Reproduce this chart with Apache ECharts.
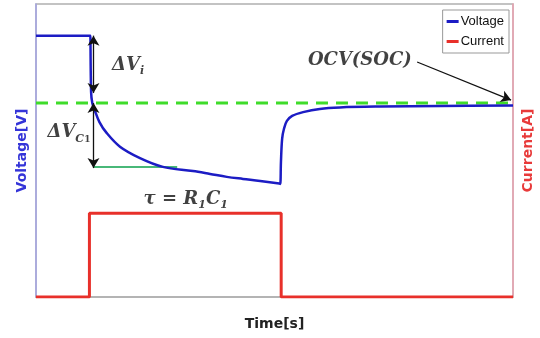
<!DOCTYPE html>
<html>
<head>
<meta charset="utf-8">
<script src="https://cdn.jsdelivr.net/npm/echarts@6/dist/echarts.min.js"></script>
<style>
html,body{margin:0;padding:0;background:#fff;}
#chart{width:540px;height:338px;}
</style>
</head>
<body>
<div id="chart"></div>
<script>
// ---- data ----
var voltTime = [0, 11.4, 11.5, 11.55, 11.8, 12.3, 13.3, 14.8, 17.6, 21.8, 26.6, 32.9, 36.5, 40.0, 43.4, 47.0, 51.0, 51.2, 51.35, 51.6, 52.0, 52.6, 53.7, 56.0, 59.5, 63.7, 72.1, 84.7, 100];
var voltVals = [4.092, 4.092, 4.092, 3.900, 3.862, 3.838, 3.797, 3.760, 3.713, 3.674, 3.644, 3.630, 3.620, 3.610, 3.603, 3.596, 3.587, 3.586, 3.660, 3.740, 3.775, 3.801, 3.818, 3.831, 3.842, 3.847, 3.850, 3.852, 3.854];
var currTime = [0, 11.2, 11.2, 51.4, 51.4, 100];
var currVals = [0, 0, 1, 1, 0, 0];
var ocvTime = [0, 100];
var ocvVals = [3.862, 3.862];
var tauTime = [12.0, 29.6];
var tauVals = [3.644, 3.644];
// annotation arrows: [t1, v1, t2, v2]
var arrowDVi = [12.05, 4.092, 12.05, 3.896];
var arrowDVc = [12.05, 3.862, 12.05, 3.640];
var arrowOCV = [79.9, 4.002, 99.6, 3.872];
// annotation labels
var labelTime = [19.3, 6.9, 31.4, 67.9];
var labelVolt = [3.992, 3.763, 3.535, 4.009];
var labelText = ['{it|ΔV}{sb|i}', '{it|ΔV}{sb|C}{ssb|1}', '{it|τ = R}{sb|1}{it|C}{sb|1}', '{it|OCV(SOC)}'];
var seriesNames = ['Voltage', 'Current'];

function pairs(a, b) { return a.map(function (x, i) { return [x, b[i]]; }); }

var chart = echarts.init(document.getElementById('chart'), null, {renderer: 'canvas'});
var serif = '"DejaVu Serif", "Liberation Serif", serif';
var rich = {
  it: {fontFamily: serif, fontStyle: 'italic', fontWeight: 'bold', fontSize: 18, color: '#111'},
  sb: {fontFamily: serif, fontStyle: 'italic', fontWeight: 'bold', fontSize: 11, color: '#111', verticalAlign: 'bottom', padding: [12, 0, 0, 0]},
  ssb: {fontFamily: serif, fontWeight: 'bold', fontSize: 9, color: '#111', verticalAlign: 'bottom', padding: [16, 0, 0, 0]}
};

var option = {
  animation: false,
  backgroundColor: '#fff',
  grid: {left: 36, right: 27, top: 4, bottom: 41, show: true, borderColor: '#b0b0b0', borderWidth: 1.5,
         outerBoundsMode: 'none', containLabel: false},
  legend: {
    data: seriesNames, orient: 'vertical', right: 31, top: 10,
    icon: 'rect', itemWidth: 12, itemHeight: 3, itemGap: 7,
    padding: [5, 5, 5, 4], borderColor: '#999', borderWidth: 1, backgroundColor: '#fff',
    textStyle: {fontFamily: '"Liberation Sans", Arial, sans-serif', fontSize: 13, color: '#111', padding: [0, 0, 0, -3]}
  },
  xAxis: {
    type: 'value', min: 0, max: 100,
    axisLine: {show: true, lineStyle: {color: '#b0b0b0', width: 1.5}},
    axisTick: {show: false}, axisLabel: {show: false}, splitLine: {show: false},
    name: 'Time[s]', nameLocation: 'middle', nameGap: 20,
    nameTextStyle: {fontFamily: '"DejaVu Sans", sans-serif', fontWeight: 'bold', fontSize: 14, color: '#222'}
  },
  yAxis: [{
    type: 'value', min: 3.2, max: 4.2, position: 'left',
    axisLine: {show: true, lineStyle: {color: '#a4a4e4', width: 1.5}},
    axisTick: {show: false}, axisLabel: {show: false}, splitLine: {show: false},
    name: 'Voltage[V]', nameLocation: 'middle', nameRotate: 90, nameGap: 7,
    nameTextStyle: {fontFamily: '"DejaVu Sans", sans-serif', fontWeight: 'bold', fontSize: 14, color: '#3434d8'}
  }, {
    type: 'value', min: 0, max: 3.5, position: 'right',
    axisLine: {show: true, lineStyle: {color: '#eba2b0', width: 1.5}},
    axisTick: {show: false}, axisLabel: {show: false}, splitLine: {show: false},
    name: 'Current[A]', nameLocation: 'middle', nameRotate: 90, nameGap: 8,
    nameTextStyle: {fontFamily: '"DejaVu Sans", sans-serif', fontWeight: 'bold', fontSize: 14, color: '#e83a3a'}
  }],
  series: [{
    name: 'OCV', type: 'line', yAxisIndex: 0, data: pairs(ocvTime, ocvVals), showSymbol: false, z: 2,
    lineStyle: {color: '#3fdc2a', width: 3, type: [12, 8]}
  }, {
    name: 'tau', type: 'line', yAxisIndex: 0, data: pairs(tauTime, tauVals), showSymbol: false, z: 2,
    lineStyle: {color: '#48b878', width: 2}
  }, {
    name: 'Voltage', type: 'line', yAxisIndex: 0, data: pairs(voltTime, voltVals), showSymbol: false, z: 3,
    smooth: 0.35,
    color: '#1c1cc4', lineStyle: {color: '#1c1cc4', width: 2.5}
  }, {
    name: 'Current', type: 'line', yAxisIndex: 1, data: pairs(currTime, currVals), showSymbol: false, z: 3,
    color: '#e8302a', lineStyle: {color: '#e8302a', width: 3}
  }, {
    name: 'arrows', type: 'line', yAxisIndex: 0, data: [], z: 5,
    markLine: {
      silent: true, symbol: ['arrow', 'arrow'], symbolSize: [9, 10],
      lineStyle: {color: '#111', width: 1.3, type: 'solid'}, label: {show: false},
      data: [
        [{coord: [arrowDVi[0], arrowDVi[1]]}, {coord: [arrowDVi[2], arrowDVi[3]]}],
        [{coord: [arrowDVc[0], arrowDVc[1]]}, {coord: [arrowDVc[2], arrowDVc[3]]}],
        [{coord: [arrowOCV[0], arrowOCV[1]], symbol: 'none'}, {coord: [arrowOCV[2], arrowOCV[3]], symbol: 'arrow'}]
      ]
    }
  }, {
    name: 'labels', type: 'scatter', yAxisIndex: 0, symbolSize: 0, z: 6,
    data: labelTime.map(function (t, i) { return {value: [t, labelVolt[i]], label: {formatter: labelText[i]}}; }),
    label: {show: true, position: 'inside', color: '#111', rich: rich}
  }]
};
chart.setOption(option);
</script>
</body>
</html>
